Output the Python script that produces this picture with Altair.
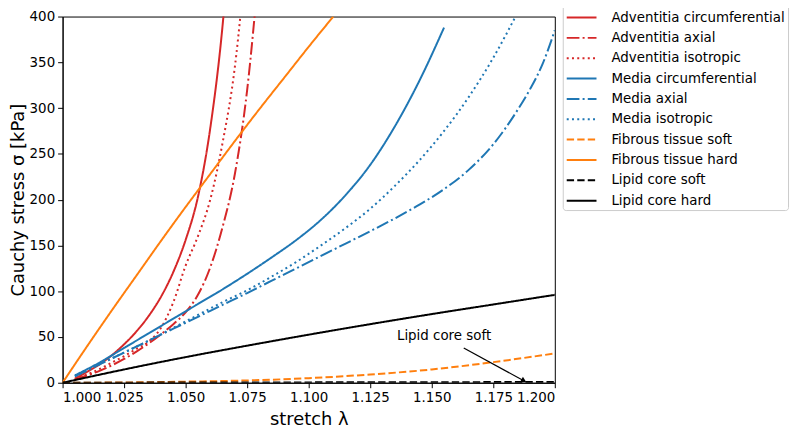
import altair as alt
import pandas as pd

FONT = "DejaVu Sans"

series_names = [
    "Adventitia circumferential", "Adventitia axial", "Adventitia isotropic",
    "Media circumferential", "Media axial", "Media isotropic",
    "Fibrous tissue soft", "Fibrous tissue hard",
    "Lipid core soft", "Lipid core hard",
]
series_colors = ["#d62728", "#d62728", "#d62728",
                 "#1f77b4", "#1f77b4", "#1f77b4",
                 "#ff7f0e", "#ff7f0e", "black", "black"]
solid, dashed, dotted, dashdot = [1, 0], [7.4, 3.2], [2, 3.3], [12.8, 3.2, 2, 3.2]
series_dashes = [solid, dashdot, dotted, solid, dashdot, dotted,
                 dashed, solid, dashed, solid]

# adventitia
adv_x = [1.005, 1.010, 1.015, 1.020, 1.025, 1.030, 1.035, 1.040, 1.045,
         1.050, 1.055, 1.060, 1.065, 1.070, 1.075, 1.080]
adv_circ = [4.5, 12, 20, 30, 42, 56, 73, 94, 121, 156, 203, 278, 390, 560]
adv_axial = [3.5, 8, 13, 19, 26, 34, 43, 53, 64, 77, 96, 126, 170, 228, 320, 460]
adv_iso = [4, 9, 15, 22, 29, 37, 45, 60, 88, 128, 160, 200, 262, 345, 480]

# media
med_x = [1.005, 1.015, 1.025, 1.035, 1.045, 1.055, 1.065, 1.075, 1.085, 1.095,
         1.105, 1.115, 1.125, 1.135, 1.145, 1.155, 1.165, 1.175, 1.185, 1.190,
         1.195, 1.200]
med_circ = [8, 22, 38, 54, 70, 86, 102, 119, 137, 156, 178, 205, 238, 280, 330, 388]
med_axial = [7, 20, 33, 46, 59, 72, 85, 98, 111.5, 125, 138.5, 152, 165.5, 179.5,
             194.5, 211.5, 232.5, 260.5, 298.5, 321, 348, 385]
med_iso = [7, 20, 33, 46, 60, 74, 88, 101, 116, 132, 150, 169, 190, 215, 243,
           275, 312, 355, 405]

# fibrous tissue
fib_hard_x = [1.00, 1.01, 1.02, 1.03, 1.04, 1.05, 1.06, 1.07, 1.08, 1.09, 1.10, 1.11]
fib_hard = [0, 40, 79, 117, 155, 192, 228, 264, 299, 333, 367, 400]
soft_x = [1.000, 1.025, 1.050, 1.075, 1.100, 1.125, 1.150, 1.175, 1.200]
fib_soft = [0, 0.3, 1.2, 2.5, 5, 9, 14.5, 22.5, 32]

# lipid core
lip_soft = [0, 0.1, 0.2, 0.3, 0.4, 0.5, 0.6, 0.7, 0.8]
lip_hard = [0, 14.5, 28, 40.5, 52.5, 64, 75, 85.5, 96]

x_ticks = [1.000, 1.025, 1.050, 1.075, 1.100, 1.125, 1.150, 1.175, 1.200]
y_ticks = [0, 50, 100, 150, 200, 250, 300, 350, 400]

note_text = ["Lipid core soft"]
note_x, note_y = [1.155], [50.6]
arrow_x, arrow_y = [1.163], [38]
arrow_x2, arrow_y2 = [1.1874], [2.1]

curves = [
    (adv_x, adv_circ), (adv_x, adv_axial), (adv_x, adv_iso),
    (med_x, med_circ), (med_x, med_axial), (med_x, med_iso),
    (soft_x, fib_soft), (fib_hard_x, fib_hard),
    (soft_x, lip_soft), (soft_x, lip_hard),
]
rows = []
for name, (xs, ys) in zip(series_names, curves):
    for i, (xv, yv) in enumerate(zip(xs, ys)):
        rows.append({"series": name, "stretch": xv, "stress": yv, "i": i})
df = pd.DataFrame(rows)

# wide flat path so the legend line is long while rows stay tight
legend = alt.Legend(
    title=None, orient="none", legendX=504, legendY=-13,
    symbolType="M-1.5,0H1.5", symbolSize=400, symbolStrokeWidth=2,
    symbolOffset=5, labelOffset=19,
    labelFont=FONT, labelFontSize=13.5, labelColor="black", labelLimit=300,
    rowPadding=2.5, padding=3,
    strokeColor="#cccccc", fillColor="white", cornerRadius=3,
)

lines = alt.Chart(df).mark_line(strokeWidth=2, clip=True, interpolate="monotone").encode(
    x=alt.X("stretch:Q",
            scale=alt.Scale(domain=[1.0, 1.2], nice=False, zero=False),
            axis=alt.Axis(values=x_ticks, format=".3f", title="stretch λ",
                          titlePadding=7)),
    y=alt.Y("stress:Q",
            scale=alt.Scale(domain=[0, 400], nice=False),
            axis=alt.Axis(values=y_ticks, title="Cauchy stress σ [kPa]",
                          titlePadding=2)),
    color=alt.Color("series:N", sort=series_names,
                    scale=alt.Scale(domain=series_names, range=series_colors),
                    legend=legend),
    strokeDash=alt.StrokeDash("series:N", sort=series_names,
                              scale=alt.Scale(domain=series_names, range=series_dashes),
                              legend=legend),
    order="i:Q",
)

note_df = pd.DataFrame({"text": note_text, "x": note_x, "y": note_y})
note = alt.Chart(note_df).mark_text(font=FONT, fontSize=13.5, color="black",
                                    align="center", baseline="middle").encode(
    x="x:Q", y="y:Q", text="text:N")

arrow_df = pd.DataFrame({"x": arrow_x, "y": arrow_y, "x2": arrow_x2, "y2": arrow_y2})
arrow = alt.Chart(arrow_df).mark_rule(color="black", strokeWidth=1.2).encode(
    x="x:Q", y="y:Q", x2="x2:Q", y2="y2:Q")
head = alt.Chart(arrow_df).mark_point(shape="triangle-up", filled=True, size=40,
                                      angle=118.7, color="black", opacity=1).encode(
    x="x2:Q", y="y2:Q")

chart = alt.layer(lines, arrow, head, note).properties(
    width=496, height=369,
    autosize=alt.AutoSizeParams(type="none"),
    padding={"left": 55, "top": 7, "right": 239, "bottom": 44},
).configure(font=FONT).configure_view(
    stroke="black", strokeWidth=1
).configure_axis(
    grid=False, domainColor="black", domainWidth=1, tickColor="black",
    tickSize=5, tickWidth=1, labelPadding=3,
    labelFont=FONT, labelFontSize=13.5, labelColor="black",
    titleFont=FONT, titleFontSize=18, titleFontWeight="normal", titleColor="black",
)

chart.save("out.html", embed_options={"renderer": "svg", "actions": False})
